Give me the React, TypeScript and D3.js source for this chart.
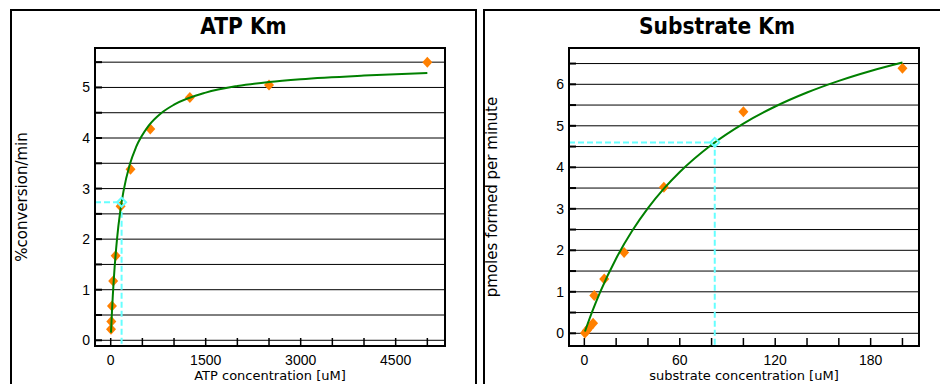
import React from "react";
import * as d3 from "d3";

// ---- ATP Km panel data ----
const atpConc = [4.88, 9.77, 19.53, 39.06, 78.13, 156.25, 312.5, 625, 1250, 2500, 5000];
const atpRate = [0.22, 0.37, 0.68, 1.17, 1.67, 2.65, 3.38, 4.18, 4.8, 5.05, 5.5];
const atpFitX = [4.88, 20, 50, 100, 150, 200, 300, 400, 600, 800, 1000, 1500, 2000, 2500, 3000, 4000, 5000];
const atpFitY = [0.151, 0.569, 1.23, 2.007, 2.543, 2.935, 3.47, 3.818, 4.244, 4.494, 4.659, 4.898, 5.028, 5.109, 5.164, 5.235, 5.285];
const atpKm = { x: 172, y: 2.73 };
const atpXTicks = [0, 500, 1000, 1500, 2000, 2500, 3000, 3500, 4000, 4500, 5000];
const atpXLabels = [0, 1500, 3000, 4500];
const atpYTicks = [0, 0.5, 1, 1.5, 2, 2.5, 3, 3.5, 4, 4.5, 5, 5.5];
const atpYLabels = [0, 1, 2, 3, 4, 5];

// ---- Substrate Km panel data ----
const subConc = [0.39, 1.56, 3.125, 5.5, 6.25, 12.5, 25, 50, 100, 200];
const subRate = [0.01, 0.07, 0.14, 0.24, 0.91, 1.31, 1.95, 3.52, 5.34, 6.39];
const subFitX = [0.39, 2, 5, 10, 20, 30, 40, 50, 60, 80, 100, 120, 140, 160, 180, 200];
const subFitY = [0.044, 0.219, 0.529, 1.0, 1.804, 2.464, 3.016, 3.485, 3.887, 4.543, 5.055, 5.465, 5.802, 6.083, 6.321, 6.525];
const subKm = { x: 82, y: 4.6 };
const subXTicks = [0, 20, 40, 60, 80, 100, 120, 140, 160, 180, 200];
const subXLabels = [0, 60, 120, 180];
const subYTicks = [0, 0.5, 1, 1.5, 2, 2.5, 3, 3.5, 4, 4.5, 5, 5.5, 6, 6.5];
const subYLabels = [0, 1, 2, 3, 4, 5, 6];

type PanelProps = {
  frame: [number, number, number, number];
  plot: [number, number, number, number];
  xDomain: [number, number];
  yDomain: [number, number];
  title: string;
  xTitle: string;
  yTitle: string;
  yTitleX: number;
  xs: number[];
  ys: number[];
  fitX: number[];
  fitY: number[];
  km: { x: number; y: number };
  xTicks: number[];
  xLabels: number[];
  yTicks: number[];
  yLabels: number[];
};

const diamond = (cx: number, cy: number, hw: number, hh: number) =>
  `M${cx},${cy - hh}L${cx + hw},${cy}L${cx},${cy + hh}L${cx - hw},${cy}Z`;

function Panel(p: PanelProps) {
  const [fx0, fy0, fx1, fy1] = p.frame;
  const [px0, py0, px1, py1] = p.plot;
  const x = d3.scaleLinear().domain(p.xDomain).range([px0, px1]);
  const y = d3.scaleLinear().domain(p.yDomain).range([py1, py0]);
  const line = d3
    .line<number>()
    .x((_, i) => x(p.fitX[i]))
    .y((d) => y(d))
    .curve(d3.curveMonotoneX);
  const tickFont = "'Liberation Sans', Arial, sans-serif";
  const labFont = "'DejaVu Sans', Verdana, sans-serif";
  const cx = (px0 + px1) / 2;
  const cy = (py0 + py1) / 2;
  return (
    <g>
      <rect x={fx0} y={fy0} width={fx1 - fx0} height={fy1 - fy0} fill="#fff" stroke="#000" strokeWidth={2} />
      <text
        x={(fx0 + Math.min(fx1, 950)) / 2}
        y={34}
        textAnchor="middle"
        fontFamily="'DejaVu Sans Condensed', 'DejaVu Sans', sans-serif"
        fontStretch="condensed"
        fontWeight="bold"
        fontSize={22.5}
      >
        {p.title}
      </text>
      {/* gridlines */}
      {p.yTicks.map((t) => (
        <line key={"g" + t} x1={px0} x2={px1} y1={y(t)} y2={y(t)} stroke="#000" strokeWidth={1} />
      ))}
      {/* y ticks */}
      {p.yTicks.map((t) => (
        <line key={"yt" + t} x1={px0} x2={px0 + 7} y1={y(t)} y2={y(t)} stroke="#000" strokeWidth={2} />
      ))}
      {/* x ticks */}
      {p.xTicks.map((t) => (
        <line key={"xt" + t} x1={x(t)} x2={x(t)} y1={py1} y2={py1 - 8} stroke="#000" strokeWidth={1.5} />
      ))}
      {p.yLabels.map((t) => (
        <text key={"yl" + t} x={px0 - 5} y={y(t)} dy="0.36em" textAnchor="end" fontFamily={tickFont} fontSize={14}>
          {t}
        </text>
      ))}
      {p.xLabels.map((t) => (
        <text key={"xl" + t} x={x(t)} y={365} textAnchor="middle" fontFamily={tickFont} fontSize={14}>
          {t}
        </text>
      ))}
      <text x={cx} y={380} textAnchor="middle" fontFamily={labFont} fontSize={13}>
        {p.xTitle}
      </text>
      <text
        transform={`translate(${p.yTitleX},${cy}) rotate(-90)`}
        textAnchor="middle"
        fontFamily={labFont}
        fontSize={15}
      >
        {p.yTitle}
      </text>
      {/* Km guides */}
      <path
        d={`M${px0},${y(p.km.y)}H${x(p.km.x)}V${py1}`}
        fill="none"
        stroke="#66FFFF"
        strokeWidth={2}
        strokeDasharray="6,3"
      />
      {/* points */}
      {p.xs.map((v, i) => (
        <path key={"pt" + i} d={diamond(x(v), y(p.ys[i]), 5, 5.5)} fill="#FF8000" />
      ))}
      <path d={line(p.fitY) || ""} fill="none" stroke="#008000" strokeWidth={2} />
      <path d={diamond(x(p.km.x), y(p.km.y), 4.5, 4.5)} fill="none" stroke="#66FFFF" strokeWidth={2} />
      {/* plot frame */}
      <rect x={px0} y={py0} width={px1 - px0} height={py1 - py0} fill="none" stroke="#000" strokeWidth={2} />
    </g>
  );
}

export default function App() {
  return (
    <svg width={940} height={384} style={{ position: "absolute", left: 0, top: 0, background: "#fff" }}>
      <rect x={0} y={0} width={940} height={384} fill="#fff" />
      <Panel
        frame={[11, 10, 476, 420]}
        plot={[95, 48, 445, 346]}
        xDomain={[-248, 5279]}
        yDomain={[-0.113, 5.78]}
        title="ATP Km"
        xTitle="ATP concentration [uM]"
        yTitle="%conversion/min"
        yTitleX={27}
        xs={atpConc}
        ys={atpRate}
        fitX={atpFitX}
        fitY={atpFitY}
        km={atpKm}
        xTicks={atpXTicks}
        xLabels={atpXLabels}
        yTicks={atpYTicks}
        yLabels={atpYLabels}
      />
      <Panel
        frame={[484, 10, 960, 420]}
        plot={[569, 48, 919, 346]}
        xDomain={[-9.64, 210.4]}
        yDomain={[-0.306, 6.875]}
        title="Substrate Km"
        xTitle="substrate concentration [uM]"
        yTitle="pmoles formed per minute"
        yTitleX={497}
        xs={subConc}
        ys={subRate}
        fitX={subFitX}
        fitY={subFitY}
        km={subKm}
        xTicks={subXTicks}
        xLabels={subXLabels}
        yTicks={subYTicks}
        yLabels={subYLabels}
      />
    </svg>
  );
}
